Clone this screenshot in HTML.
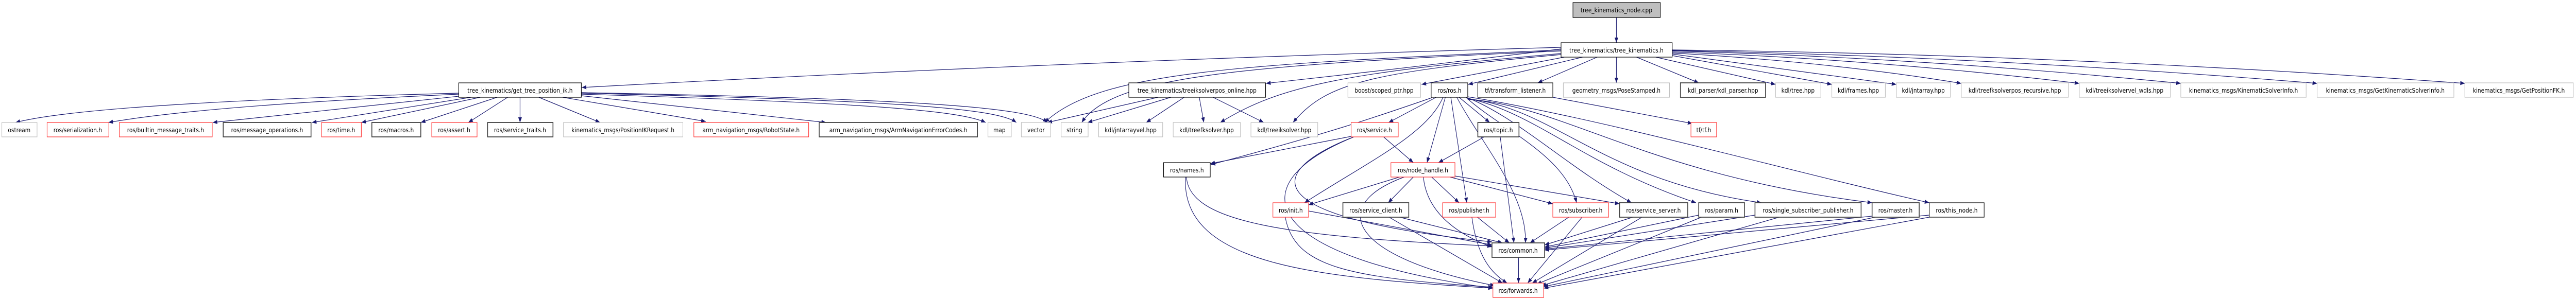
<!DOCTYPE html>
<html><head><meta charset="utf-8"><style>
html,body{margin:0;padding:0;background:#fff;overflow:hidden;}
svg{display:block;width:100vw;height:100vh;}
text{font-family:"DejaVu Sans","Liberation Sans",sans-serif;font-size:12px;fill:#000;text-anchor:middle;}
.e{fill:none;stroke:#191970;stroke-width:1.2;marker-end:url(#a);}
.b{fill:#fff;stroke:#000;stroke-width:1.2;}
.g{fill:#fff;stroke:#bfbfbf;stroke-width:1.2;}
.r{fill:#fff;stroke:#ff3030;stroke-width:1.2;}
.d{fill:#fff;stroke:#404040;stroke-width:1.8;}
</style></head><body>
<svg viewBox="0 0 5632 581" preserveAspectRatio="none" xmlns="http://www.w3.org/2000/svg">
<defs><marker id="a" markerUnits="userSpaceOnUse" markerWidth="10" markerHeight="8" refX="10" refY="4" orient="auto"><path d="M0,0 L10,4 L0,8 z" fill="#191970"/></marker></defs>
<g>
<path class="e" d="M3534,34 L3534,83"/>
<path class="e" d="M3413,92 Q2300,120 1272,170"/>
<path class="e" d="M3413,95 Q3100,130 2768,162"/>
<path class="e" d="M3413,97 C2700,125 2400,140 2284,238"/>
<path class="e" d="M3413,99 C2700,127 2430,150 2365,238"/>
<path class="e" d="M3413,104 C2950,140 2800,165 2668,238"/>
<path class="e" d="M3413,106 C3000,140 2900,160 2827,238"/>
<path class="e" d="M3420,111 L3108,164"/>
<path class="e" d="M3460,111 L3210,164"/>
<path class="e" d="M3492,111 L3362,161"/>
<path class="e" d="M3534,111 L3534,161"/>
<path class="e" d="M3578,111 L3714,161"/>
<path class="e" d="M3620,111 L3882,164"/>
<path class="e" d="M3656,108 L4005,164"/>
<path class="e" d="M3656,105 L4146,164"/>
<path class="e" d="M3656,103 Q4000,120 4288,162"/>
<path class="e" d="M3656,101 Q4100,115 4546,162"/>
<path class="e" d="M3656,99 Q4200,112 4768,162"/>
<path class="e" d="M3656,98 Q4350,110 5066,162"/>
<path class="e" d="M3656,97 Q4500,105 5389,162"/>
<path class="e" d="M1003,181 Q200,200 34,238"/>
<path class="e" d="M1003,183 Q450,205 237,238"/>
<path class="e" d="M1003,187 L465,238"/>
<path class="e" d="M1030,189 L682,238"/>
<path class="e" d="M1050,189 L790,238"/>
<path class="e" d="M1087,189 L920,238"/>
<path class="e" d="M1110,189 L1024,238"/>
<path class="e" d="M1137,189 L1137,238"/>
<path class="e" d="M1178,189 L1312,238"/>
<path class="e" d="M1230,189 L1543,236"/>
<path class="e" d="M1271,186 L1806,238"/>
<path class="e" d="M1271,183 C1900,200 2100,215 2155,238"/>
<path class="e" d="M1271,181 C1950,195 2180,210 2222,238"/>
<path class="e" d="M1271,180 C2000,192 2250,208 2290,238"/>
<path class="e" d="M2532,189 L2290,238"/>
<path class="e" d="M2560,189 L2378,238"/>
<path class="e" d="M2589,189 L2506,238"/>
<path class="e" d="M2622,189 L2632,238"/>
<path class="e" d="M2652,189 L2763,238"/>
<path class="e" d="M3140,189 L3036,238"/>
<path class="e" d="M3190,189 L3257,238"/>
<path class="e" d="M3160,189 L3120,316"/>
<path class="e" d="M3155,189 C3120,260 3000,310 2852,394"/>
<path class="e" d="M3172,189 L3207,394"/>
<path class="e" d="M3185,189 C3240,280 3340,380 3335,472"/>
<path class="e" d="M3205,189 C3280,250 3420,300 3447,394"/>
<path class="e" d="M3209,190 C3320,230 3420,320 3567,394"/>
<path class="e" d="M3209,191 C3360,220 3460,320 3708,394"/>
<path class="e" d="M3209,192 C3400,210 3500,350 3851,394"/>
<path class="e" d="M3209,193 C3420,205 3600,340 4093,394"/>
<path class="e" d="M3209,188 C3500,230 3900,330 4218,394"/>
<path class="e" d="M3130,190 C3000,230 2900,260 2647,320"/>
<path class="e" d="M3395,189 L3700,240"/>
<path class="e" d="M3025,266 L3090,316"/>
<path class="e" d="M2954,265 L2646,318"/>
<path class="e" d="M2954,268 C2780,330 2720,420 3262,470"/>
<path class="e" d="M2960,266 C2700,360 2760,500 3264,560"/>
<path class="e" d="M3245,266 L3145,316"/>
<path class="e" d="M3280,266 L3310,472"/>
<path class="e" d="M3060,344 L2861,398"/>
<path class="e" d="M3090,344 L3035,394"/>
<path class="e" d="M3130,344 L3190,394"/>
<path class="e" d="M3170,344 L3395,396"/>
<path class="e" d="M3181,342 L3541,396"/>
<path class="e" d="M3112,344 C3120,420 3200,460 3262,480"/>
<path class="e" d="M3070,344 C2900,400 2950,500 3268,555"/>
<path class="e" d="M2594,344 C2600,430 2800,460 3262,478"/>
<path class="e" d="M2592,344 C2580,520 2900,540 3264,560"/>
<path class="e" d="M2861,410 L3262,476"/>
<path class="e" d="M2810,422 C2830,520 2950,540 3264,558"/>
<path class="e" d="M3060,422 L3285,472"/>
<path class="e" d="M3037,422 L3285,550"/>
<path class="e" d="M3230,422 L3300,472"/>
<path class="e" d="M3218,422 C3230,500 3260,530 3295,550"/>
<path class="e" d="M3430,422 L3345,472"/>
<path class="e" d="M3459,422 L3340,550"/>
<path class="e" d="M3570,422 L3377,476"/>
<path class="e" d="M3590,422 L3350,550"/>
<path class="e" d="M3714,418 L3377,480"/>
<path class="e" d="M3720,422 L3360,552"/>
<path class="e" d="M3837,418 L3377,482"/>
<path class="e" d="M3890,422 L3370,555"/>
<path class="e" d="M4093,420 L3377,484"/>
<path class="e" d="M4100,422 L3375,557"/>
<path class="e" d="M4218,418 L3377,486"/>
<path class="e" d="M4218,422 L3375,560"/>
<path class="e" d="M3320,500 L3320,550"/>
</g>
<g>
<rect x="3439" y="5" width="191" height="29" fill="#bfbfbf" stroke="#000" stroke-width="1.2"/><text x="3534" y="24">tree_kinematics_node.cpp</text>
<rect class="b" x="3413" y="83" width="243" height="28"/><text x="3534" y="102">tree_kinematics/tree_kinematics.h</text>

<rect class="b" x="1003" y="161" width="268" height="28"/><text x="1137" y="180">tree_kinematics/get_tree_position_ik.h</text>
<rect class="b" x="2468" y="161" width="299" height="28"/><text x="2617" y="180">tree_kinematics/treeiksolverpos_online.hpp</text>
<rect class="g" x="2947" y="161" width="159" height="28"/><text x="3026" y="180">boost/scoped_ptr.hpp</text>
<rect class="b" x="3129" y="161" width="80" height="28"/><text x="3169" y="180">ros/ros.h</text>
<rect class="b" x="3231" y="161" width="164" height="28"/><text x="3313" y="180">tf/transform_listener.h</text>
<rect class="g" x="3418" y="161" width="232" height="28"/><text x="3534" y="180">geometry_msgs/PoseStamped.h</text>
<rect class="d" x="3674" y="161" width="186" height="28"/><text x="3767" y="180">kdl_parser/kdl_parser.hpp</text>
<rect class="g" x="3882" y="161" width="99" height="28"/><text x="3931" y="180">kdl/tree.hpp</text>
<rect class="g" x="4005" y="161" width="117" height="28"/><text x="4063" y="180">kdl/frames.hpp</text>
<rect class="g" x="4146" y="161" width="118" height="28"/><text x="4205" y="180">kdl/jntarray.hpp</text>
<rect class="g" x="4288" y="161" width="234" height="28"/><text x="4405" y="180">kdl/treefksolverpos_recursive.hpp</text>
<rect class="g" x="4546" y="161" width="199" height="28"/><text x="4645" y="180">kdl/treeiksolvervel_wdls.hpp</text>
<rect class="g" x="4768" y="161" width="274" height="28"/><text x="4905" y="180">kinematics_msgs/KinematicSolverInfo.h</text>
<rect class="g" x="5066" y="161" width="299" height="28"/><text x="5215" y="180">kinematics_msgs/GetKinematicSolverInfo.h</text>
<rect class="g" x="5389" y="161" width="237" height="28"/><text x="5507" y="180">kinematics_msgs/GetPositionFK.h</text>

<rect class="g" x="4" y="238" width="77" height="28"/><text x="42" y="257">ostream</text>
<rect class="r" x="103" y="238" width="135" height="28"/><text x="170" y="257">ros/serialization.h</text>
<rect class="r" x="261" y="238" width="203" height="28"/><text x="362" y="257">ros/builtin_message_traits.h</text>
<rect class="d" x="488" y="238" width="192" height="28"/><text x="584" y="257">ros/message_operations.h</text>
<rect class="r" x="703" y="238" width="87" height="28"/><text x="746" y="257">ros/time.h</text>
<rect class="d" x="813" y="238" width="107" height="28"/><text x="866" y="257">ros/macros.h</text>
<rect class="r" x="944" y="238" width="99" height="28"/><text x="993" y="257">ros/assert.h</text>
<rect class="d" x="1066" y="238" width="143" height="28"/><text x="1137" y="257">ros/service_traits.h</text>
<rect class="g" x="1232" y="238" width="261" height="28"/><text x="1362" y="257">kinematics_msgs/PositionIKRequest.h</text>
<rect class="r" x="1517" y="238" width="251" height="28"/><text x="1642" y="257">arm_navigation_msgs/RobotState.h</text>
<rect class="d" x="1791" y="238" width="346" height="28"/><text x="1964" y="257">arm_navigation_msgs/ArmNavigationErrorCodes.h</text>
<rect class="g" x="2160" y="238" width="51" height="28"/><text x="2185" y="257">map</text>
<rect class="g" x="2233" y="238" width="64" height="28"/><text x="2265" y="257">vector</text>
<rect class="g" x="2320" y="238" width="59" height="28"/><text x="2349" y="257">string</text>
<rect class="g" x="2402" y="238" width="140" height="28"/><text x="2472" y="257">kdl/jntarrayvel.hpp</text>
<rect class="g" x="2565" y="238" width="147" height="28"/><text x="2638" y="257">kdl/treefksolver.hpp</text>
<rect class="g" x="2735" y="238" width="146" height="28"/><text x="2808" y="257">kdl/treeiksolver.hpp</text>
<rect class="r" x="2954" y="238" width="103" height="28"/><text x="3005" y="257">ros/service.h</text>
<rect class="d" x="3231" y="238" width="90" height="28"/><text x="3276" y="257">ros/topic.h</text>
<rect class="r" x="3697" y="238" width="56" height="28"/><text x="3725" y="257">tf/tf.h</text>

<rect class="b" x="2544" y="316" width="102" height="28"/><text x="2595" y="335">ros/names.h</text>
<rect class="r" x="3041" y="316" width="140" height="28"/><text x="3111" y="335">ros/node_handle.h</text>

<rect class="r" x="2783" y="394" width="78" height="28"/><text x="2822" y="413">ros/init.h</text>
<rect class="d" x="2936" y="394" width="144" height="28"/><text x="3008" y="413">ros/service_client.h</text>
<rect class="r" x="3154" y="394" width="116" height="28"/><text x="3212" y="413">ros/publisher.h</text>
<rect class="r" x="3395" y="394" width="122" height="28"/><text x="3456" y="413">ros/subscriber.h</text>
<rect class="d" x="3541" y="394" width="149" height="28"/><text x="3615" y="413">ros/service_server.h</text>
<rect class="d" x="3714" y="394" width="100" height="28"/><text x="3764" y="413">ros/param.h</text>
<rect class="d" x="3837" y="394" width="232" height="28"/><text x="3953" y="413">ros/single_subscriber_publisher.h</text>
<rect class="d" x="4093" y="394" width="103" height="28"/><text x="4144" y="413">ros/master.h</text>
<rect class="b" x="4218" y="394" width="120" height="28"/><text x="4278" y="413">ros/this_node.h</text>

<rect class="d" x="3262" y="472" width="115" height="28"/><text x="3319" y="491">ros/common.h</text>
<rect class="r" x="3264" y="550" width="111" height="28"/><text x="3319" y="569">ros/forwards.h</text>
</g>
</svg>
</body></html>
